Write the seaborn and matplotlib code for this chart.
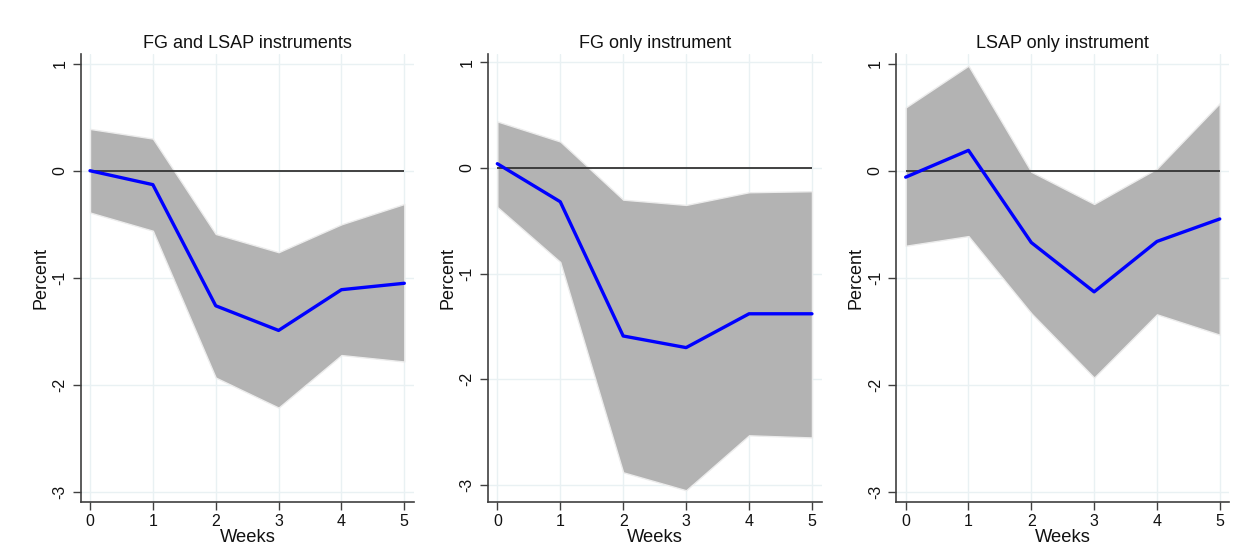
import matplotlib
matplotlib.use("Agg")
import matplotlib.pyplot as plt
import numpy as np
import pandas as pd
import seaborn as sns

# Horizon (weeks after the announcement)
weeks = [0, 1, 2, 3, 4, 5]

panel_titles = ["FG and LSAP instruments", "FG only instrument", "LSAP only instrument"]

# Point estimates of the impulse responses (percent)
irf_fg_lsap = [0.00, -0.13, -1.26, -1.49, -1.11, -1.05]
irf_fg_only = [0.04, -0.32, -1.59, -1.70, -1.38, -1.38]
irf_lsap_only = [-0.06, 0.19, -0.67, -1.13, -0.66, -0.45]

# Upper confidence bounds
upper_fg_lsap = [0.39, 0.30, -0.59, -0.76, -0.50, -0.31]
upper_fg_only = [0.44, 0.25, -0.30, -0.35, -0.23, -0.22]
upper_lsap_only = [0.59, 0.98, -0.01, -0.31, 0.02, 0.63]

# Lower confidence bounds
lower_fg_lsap = [-0.39, -0.56, -1.93, -2.21, -1.72, -1.78]
lower_fg_only = [-0.37, -0.89, -2.88, -3.05, -2.53, -2.55]
lower_lsap_only = [-0.70, -0.61, -1.33, -1.93, -1.34, -1.53]

y_ticks = [1, 0, -1, -2, -3]

sns.set_style("white")
plt.rcParams["font.family"] = ["Liberation Sans", "DejaVu Sans"]

W, H = 1243, 555
fig = plt.figure(figsize=(W / 100, H / 100), dpi=100)

# pixel boxes of the three panels: (left, right, top, bottom)
boxes = [(80.7, 414.3, 54, 501.7), (487.7, 821.7, 54, 501.7), (896, 1229.3, 54, 501.7)]
xlims = [(-0.148, 5.159), (-0.153, 5.155), (-0.154, 5.152)]
ylims = [(-3.088, 1.089), (-3.158, 1.078), (-3.088, 1.089)]

series = [
    (irf_fg_lsap, upper_fg_lsap, lower_fg_lsap),
    (irf_fg_only, upper_fg_only, lower_fg_only),
    (irf_lsap_only, upper_lsap_only, lower_lsap_only),
]

grid_col = "#e9f1f3"
spine_col = "#3f3f3f"
text_col = "#111111"

for (l, r, t, b), title, (irf, up, lo), xlim, ylim in zip(boxes, panel_titles, series, xlims, ylims):
    ax = fig.add_axes([l / W, 1 - b / H, (r - l) / W, (b - t) / H])
    df = pd.DataFrame({"Weeks": weeks, "irf": irf, "upper": up, "lower": lo})

    # grid lines at each tick
    for xv in weeks:
        ax.axvline(xv, color=grid_col, lw=1.0, zorder=0)
    for yv in y_ticks:
        ax.axhline(yv, color=grid_col, lw=1.0, zorder=0)

    ax.fill_between(df["Weeks"], df["lower"], df["upper"], facecolor="#b3b3b3",
                    edgecolor="#ececec", linewidth=1.0, zorder=1)
    ax.hlines(0, weeks[0], weeks[-1], color="#333333", lw=1.3, zorder=2)
    sns.lineplot(data=df, x="Weeks", y="irf", ax=ax, color="#0000ff", lw=2.4, zorder=3)

    ax.set_xlim(*xlim)
    ax.set_ylim(*ylim)
    ax.set_xticks(weeks)
    ax.set_xticklabels([str(w) for w in weeks])
    ax.set_yticks(y_ticks)
    ax.set_yticklabels([str(v) for v in y_ticks], rotation=90, va="center")

    ax.tick_params(axis="both", which="major", direction="out", length=5.5, width=1.0,
                   color=spine_col, labelsize=11.5, labelcolor=text_col, pad=3,
                   bottom=True, left=True)
    ax.tick_params(axis="y", pad=4)

    for side in ("top", "right"):
        ax.spines[side].set_visible(False)
    for side in ("left", "bottom"):
        ax.spines[side].set_color(spine_col)
        ax.spines[side].set_linewidth(1.2)

    ax.set_xlabel("Weeks", fontsize=13.2, labelpad=0.5, color=text_col)
    ax.set_ylabel("Percent", fontsize=13, labelpad=2.5, color=text_col)
    ax.set_title(title, fontsize=13, pad=4.5, color=text_col)

fig.savefig("out.png", dpi=100, facecolor="white")
